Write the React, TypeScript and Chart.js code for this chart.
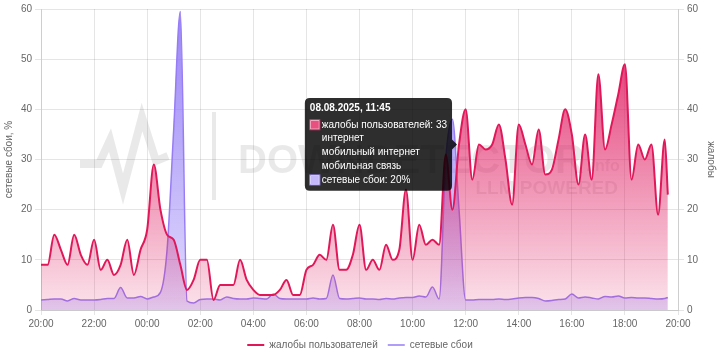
import React, { useEffect, useRef } from 'react';
import { Chart, registerables, Tooltip } from 'chart.js';

Chart.register(...registerables);

// ---- data ----
const seriesNames = ['жалобы пользователей', 'сетевые сбои'];
const axisTitles = ['сетевые сбои, %', 'жалобы'];
const dates = ['07.08.2025', '08.08.2025'];
const topIssues = ['интернет', 'мобильный интернет', 'мобильная связь'];
const xTickLabels = ['20:00', '22:00', '00:00', '02:00', '04:00', '06:00', '08:00', '10:00', '12:00', '14:00', '16:00', '18:00', '20:00'];
const watermarkText = ['DOWNDETECTOR', '.info', 'LLM POWERED'];

const times: string[] = [];
for (let i = 0; i < 95; i++) {
  const m = (20 * 60 + i * 15) % 1440;
  times.push(String(Math.floor(m / 60)).padStart(2, '0') + ':' + String(m % 60).padStart(2, '0'));
}
times.push('19:37');

const complaints = [
  9, 9, 15, 12, 9, 15, 11, 9, 14, 8, 10, 7, 9, 14, 7, 12,
  16, 29, 20, 15, 14, 9, 4, 6, 10, 10, 2, 5, 5, 5, 10, 6,
  4, 3, 3, 3, 4, 6, 3, 3, 8, 9, 11, 10, 17, 8, 8, 11,
  17, 8, 10, 8, 13, 10, 12, 24, 10, 17, 13, 14, 13, 31, 20, 33,
  40, 26, 33, 32, 33, 37, 30, 21, 37, 33, 29, 36, 27, 28, 34, 40,
  35, 25, 35, 26, 47, 32, 37, 43, 49, 26, 33, 30, 33, 19, 34, 23,
];

const outages = [
  2.0, 2.1, 2.2, 2.2, 1.8, 2.3, 2.0, 2.0, 2.0, 2.1, 2.3, 2.3, 4.5, 2.4, 2.4, 2.7,
  2.2, 2.6, 3.5, 12, 36, 59.5, 1.8, 1.4, 2.1, 2.2, 2.2, 2.0, 2.6, 2.3, 2.2, 2.2,
  2.4, 2.3, 2.2, 3.2, 2.3, 2.2, 2.2, 2.2, 2.2, 2.4, 2.2, 2.3, 7, 2.3, 2.2, 2.3,
  2.4, 2.2, 2.2, 2.1, 2.3, 2.2, 2.4, 2.5, 2.5, 2.8, 2.6, 4.6, 2.2, 30, 38, 20,
  2.0, 2.0, 2.1, 2.1, 2.1, 2.2, 2.1, 2.2, 2.4, 2.5, 2.5, 2.3, 1.8, 1.9, 2.1, 2.2,
  3.2, 2.4, 2.6, 2.4, 2.2, 2.7, 2.6, 2.8, 2.4, 2.5, 2.4, 2.4, 2.3, 2.2, 2.3, 2.5,
];

const tooltipTime = '11:45';

// ---- helpers ----
const toMin = (t: string) => {
  const [h, m] = t.split(':').map(Number);
  return (h * 60 + m - 1200 + 1440) % 1440;
};
const xs = times.map(toMin);

const PINK = 'rgb(224, 24, 90)';
const PURPLE = 'rgb(150, 125, 245)';

const gradient = (rgb: string, topA: number, botA: number) => (ctx: any) => {
  const chart = ctx.chart;
  const area = chart.chartArea;
  if (!area) return 'transparent';
  const g = chart.ctx.createLinearGradient(0, area.top, 0, area.bottom);
  g.addColorStop(0, `rgba(${rgb}, ${topA})`);
  g.addColorStop(1, `rgba(${rgb}, ${botA})`);
  return g;
};

(Tooltip.positioners as any).anchorFirst = function (items: any[]) {
  if (!items.length) return false;
  const el = items[0].element;
  return { x: el.x, y: el.y };
};

const watermark = {
  id: 'watermark',
  beforeDatasetsDraw(chart: any) {
    const c = chart.ctx as CanvasRenderingContext2D;
    c.save();
    c.strokeStyle = 'rgba(0,0,0,0.085)';
    c.fillStyle = 'rgba(0,0,0,0.085)';
    c.lineWidth = 8;
    c.lineJoin = 'miter';
    c.beginPath();
    const pts = [[80, 164], [99, 164], [110, 140], [123, 189], [142, 117], [156, 161], [168, 156]];
    pts.forEach(([x, y], i) => (i ? c.lineTo(x, y) : c.moveTo(x, y)));
    c.stroke();
    c.fillRect(212, 112, 4, 88);
    c.textBaseline = 'alphabetic';
    c.textAlign = 'left';
    c.font = 'bold 40px "Liberation Sans", Arial, sans-serif';
    c.fillText(watermarkText[0], 238, 173);
    c.font = 'bold 16px "Liberation Sans", Arial, sans-serif';
    c.fillText(watermarkText[1], 586, 171);
    c.textAlign = 'right';
    c.font = 'bold 19px "Liberation Sans", Arial, sans-serif';
    c.fillText(watermarkText[2], 618, 194);
    c.restore();
  },
};

export default function App() {
  const ref = useRef<HTMLCanvasElement | null>(null);

  useEffect(() => {
    if (!ref.current) return;
    Chart.defaults.font.family = '"Liberation Sans", Arial, sans-serif';
    Chart.defaults.font.size = 10;
    Chart.defaults.color = '#666';

    const chart = new Chart(ref.current, {
      type: 'line',
      data: {
        datasets: [
          {
            label: seriesNames[0],
            data: complaints.map((v, i) => ({ x: xs[i], y: v })),
            yAxisID: 'y1',
            borderColor: PINK,
            borderWidth: 2,
            backgroundColor: gradient('224, 30, 98', 0.98, 0.12),
            fill: 'origin',
            pointRadius: 0,
            pointHoverRadius: 0,
            cubicInterpolationMode: 'monotone',
          },
          {
            label: seriesNames[1],
            data: outages.map((v, i) => ({ x: xs[i], y: v })),
            yAxisID: 'y',
            borderColor: PURPLE,
            borderWidth: 1.5,
            backgroundColor: gradient('140, 115, 245', 0.88, 0.25),
            fill: 'origin',
            pointRadius: 0,
            pointHoverRadius: 0,
            cubicInterpolationMode: 'monotone',
          },
        ],
      },
      options: {
        responsive: false,
        animation: false,
        events: [],
        layout: { padding: { top: 2, bottom: 0, left: 0, right: 0 } },
        scales: {
          x: {
            type: 'linear',
            min: 0,
            max: 1440,
            ticks: {
              stepSize: 120,
              autoSkip: false,
              maxRotation: 0,
              padding: 3,
              color: '#666',
              font: { size: 10 },
              callback: (v: any) => xTickLabels[Math.round(Number(v) / 120)],
            },
            grid: { color: 'rgba(0,0,0,0.1)', tickLength: 5 },
            border: { color: 'rgba(0,0,0,0.12)' },
            afterFit: (s: any) => { s.height = 20; },
          },
          y: {
            position: 'left',
            min: 0,
            max: 60,
            ticks: { stepSize: 10, padding: 3, color: '#666', font: { size: 10 } },
            grid: { color: 'rgba(0,0,0,0.1)', tickLength: 6 },
            border: { color: 'rgba(0,0,0,0.1)' },
            title: { display: true, text: axisTitles[0], color: '#666', font: { size: 10 }, padding: { top: 3, bottom: 0 } },
            afterFit: (s: any) => { s.width = 41; },
          },
          y1: {
            position: 'right',
            min: 0,
            max: 60,
            ticks: { stepSize: 10, padding: 3, color: '#666', font: { size: 10 } },
            grid: { drawOnChartArea: false, color: 'rgba(0,0,0,0.1)', tickLength: 6 },
            border: { color: 'rgba(0,0,0,0.1)' },
            title: { display: true, text: axisTitles[1], color: '#666', font: { size: 10 }, padding: { top: 3, bottom: 0 } },
            afterFit: (s: any) => { s.width = 42; },
          },
        },
        plugins: {
          legend: {
            position: 'bottom',
            labels: {
              usePointStyle: true,
              pointStyle: 'line',
              pointStyleWidth: 17,
              padding: 10,
              color: '#666',
              font: { size: 10 },
            },
          },
          tooltip: {
            enabled: true,
            mode: 'index',
            intersect: false,
            position: 'anchorFirst' as any,
            xAlign: 'right',
            yAlign: 'center',
            backgroundColor: 'rgba(0,0,0,0.82)',
            titleColor: '#fff',
            bodyColor: '#fff',
            titleFont: { size: 10, weight: 'bold', lineHeight: 1.38 },
            bodyFont: { size: 10, lineHeight: 1.38 },
            padding: { top: 3, bottom: 4, left: 5, right: 5 },
            titleMarginBottom: 3,
            bodySpacing: 0,
            boxWidth: 10,
            boxHeight: 10,
            cornerRadius: 5,
            caretSize: 5,
            caretPadding: 2,
            callbacks: {
              title: (items: any[]) => {
                const i = items[0].dataIndex;
                const t = times[i];
                const d = toMin(t) < 240 ? dates[0] : dates[1];
                return `${d}, ${t}`;
              },
              label: (item: any) =>
                item.datasetIndex === 0
                  ? `${item.dataset.label}: ${item.parsed.y}`
                  : `${item.dataset.label}: ${item.parsed.y}%`,
              afterLabel: (item: any) => (item.datasetIndex === 0 ? topIssues : []),
              labelColor: (item: any) =>
                item.datasetIndex === 0
                  ? { borderColor: 'rgb(214, 40, 100)', backgroundColor: 'rgb(232, 80, 128)', borderWidth: 1 }
                  : { borderColor: 'rgb(150, 130, 240)', backgroundColor: 'rgb(196, 184, 250)', borderWidth: 1 },
            },
          },
        },
      },
      plugins: [watermark],
    } as any);

    const idx = times.indexOf(tooltipTime);
    chart.tooltip?.setActiveElements(
      [
        { datasetIndex: 0, index: idx },
        { datasetIndex: 1, index: idx },
      ],
      { x: 0, y: 0 }
    );
    chart.update();

    return () => chart.destroy();
  }, []);

  return (
    <div style={{ position: 'absolute', left: 0, top: 0, width: 720, height: 360 }}>
      <canvas ref={ref} width={720} height={360} style={{ width: 720, height: 360, display: 'block' }} />
    </div>
  );
}
